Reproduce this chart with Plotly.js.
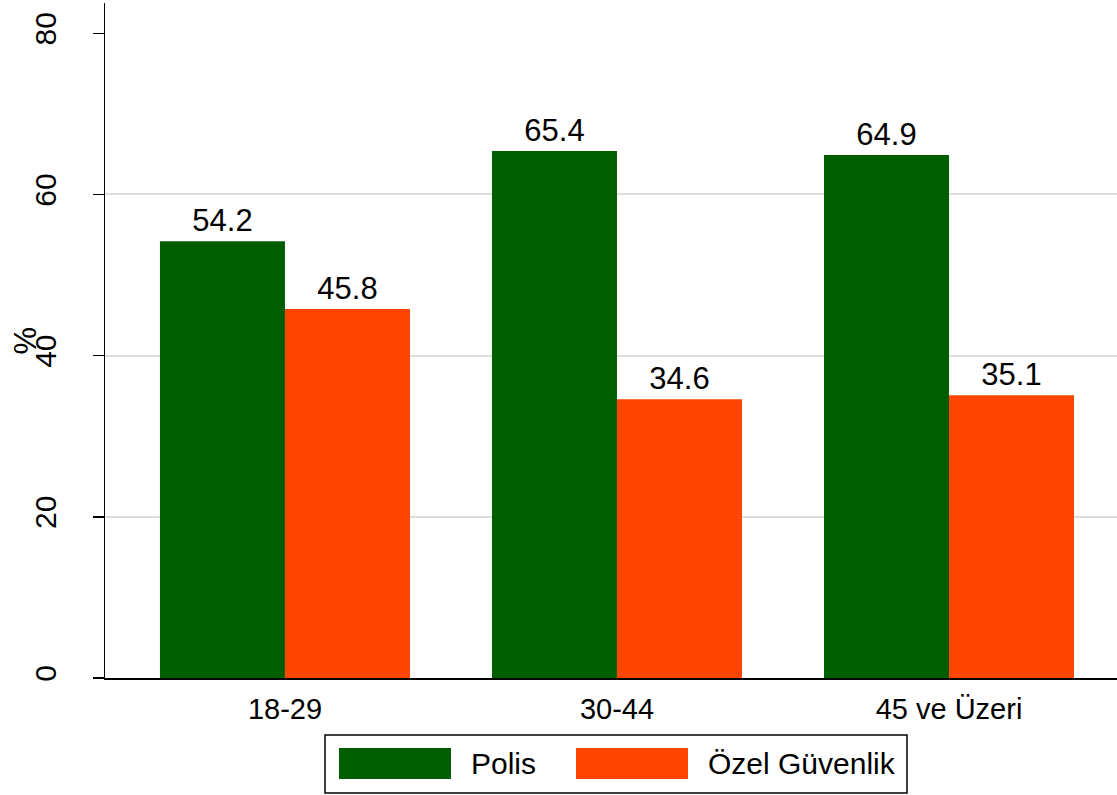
<!DOCTYPE html>
<html>
<head>
<meta charset="utf-8">
<script src="https://cdn.plot.ly/plotly-3.0.1.min.js"></script>
<style>html,body{margin:0;padding:0;background:#fff}#chart{width:1117px;height:795px}</style>
</head>
<body>
<div id="chart"></div>
<script>
var categories = ["18-29", "30-44", "45 ve Üzeri"];
var polis = [54.2, 65.4, 64.9];
var ozelGuvenlik = [45.8, 34.6, 35.1];
var seriesNames = ["Polis", "Özel Güvenlik"];
var yTicks = [0, 20, 40, 60, 80];
var gridTicks = [20, 40, 60];
var yTitle = "%";

var GREEN = "#005E00", ORANGE = "#FF4500";
var FONT = "Liberation Sans, Arial, sans-serif";

function barTrace(name, vals, color) {
  return {
    type: "bar", name: name, x: categories, y: vals,
    marker: {color: color, line: {width: 0}},
    text: vals.map(function(v){ return v.toFixed(1); }),
    textposition: "outside", cliponaxis: false,
    textfont: {family: FONT, size: 31, color: "#000"},
    showlegend: false, hoverinfo: "x+y"
  };
}

var data = [barTrace(seriesNames[0], polis, GREEN), barTrace(seriesNames[1], ozelGuvenlik, ORANGE)];

// legend drawn as paper shapes + annotations
var shapes = [
  {type: "rect", xref: "paper", yref: "paper", x0: 0.2174, x1: 0.7925, y0: -0.1704, y1: -0.0844,
   line: {color: "#000", width: 1.5}, fillcolor: "rgba(0,0,0,0)"},
  {type: "rect", xref: "paper", yref: "paper", x0: 0.2312, x1: 0.3419, y0: -0.1496, y1: -0.1037,
   line: {width: 0}, fillcolor: GREEN},
  {type: "rect", xref: "paper", yref: "paper", x0: 0.4654, x1: 0.5761, y0: -0.1496, y1: -0.1037,
   line: {width: 0}, fillcolor: ORANGE}
];
var annotations = [
  {xref: "paper", yref: "paper", x: 0.3597, y: -0.1267, xanchor: "left", yanchor: "middle",
   text: seriesNames[0], showarrow: false, font: {family: FONT, size: 30, color: "#000"}},
  {xref: "paper", yref: "paper", x: 0.5939, y: -0.1267, xanchor: "left", yanchor: "middle",
   text: seriesNames[1], showarrow: false, font: {family: FONT, size: 30, color: "#000"}},
  {xref: "paper", yref: "paper", x: -0.079, y: 0.5, xanchor: "center", yanchor: "middle",
   textangle: -90, text: yTitle, showarrow: false, font: {family: FONT, size: 31, color: "#000"}}
];

var layout = {
  width: 1117, height: 795,
  margin: {l: 105, r: 0, t: 3, b: 117},
  paper_bgcolor: "#fff", plot_bgcolor: "#fff",
  barmode: "group", bargap: 0.247, bargroupgap: 0,
  font: {family: FONT, color: "#000"},
  xaxis: {
    type: "category", range: [-0.542, 2.506],
    showline: true, linecolor: "#000", linewidth: 1.5,
    ticks: "", showgrid: false, zeroline: false,
    tickfont: {family: FONT, size: 29, color: "#000"},
    ticklabelstandoff: 5
  },
  yaxis: {
    range: [0, 83.76], tickvals: yTicks, ticktext: yTicks.map(String),
    showline: true, linecolor: "#000", linewidth: 1.5,
    ticks: "outside", ticklen: 11, tickwidth: 1.5, tickcolor: "#000",
    showgrid: false, zeroline: false, tickangle: -90,
    tickfont: {family: FONT, size: 30, color: "#000"},
    ticklabelstandoff: 25
  },
  yaxis2: {
    overlaying: "y", range: [0, 83.76], tickvals: gridTicks,
    showticklabels: false, ticks: "", showline: false, zeroline: false,
    showgrid: true, gridcolor: "#DEDEDE", gridwidth: 2, layer: "below traces"
  },
  shapes: shapes,
  annotations: annotations
};

// invisible trace to activate grid axis
data.unshift({type: "scatter", x: [categories[0]], y: [0], yaxis: "y2", mode: "markers",
  marker: {opacity: 0}, showlegend: false, hoverinfo: "skip"});

Plotly.newPlot("chart", data, layout, {displayModeBar: false, staticPlot: true});
</script>
</body>
</html>
